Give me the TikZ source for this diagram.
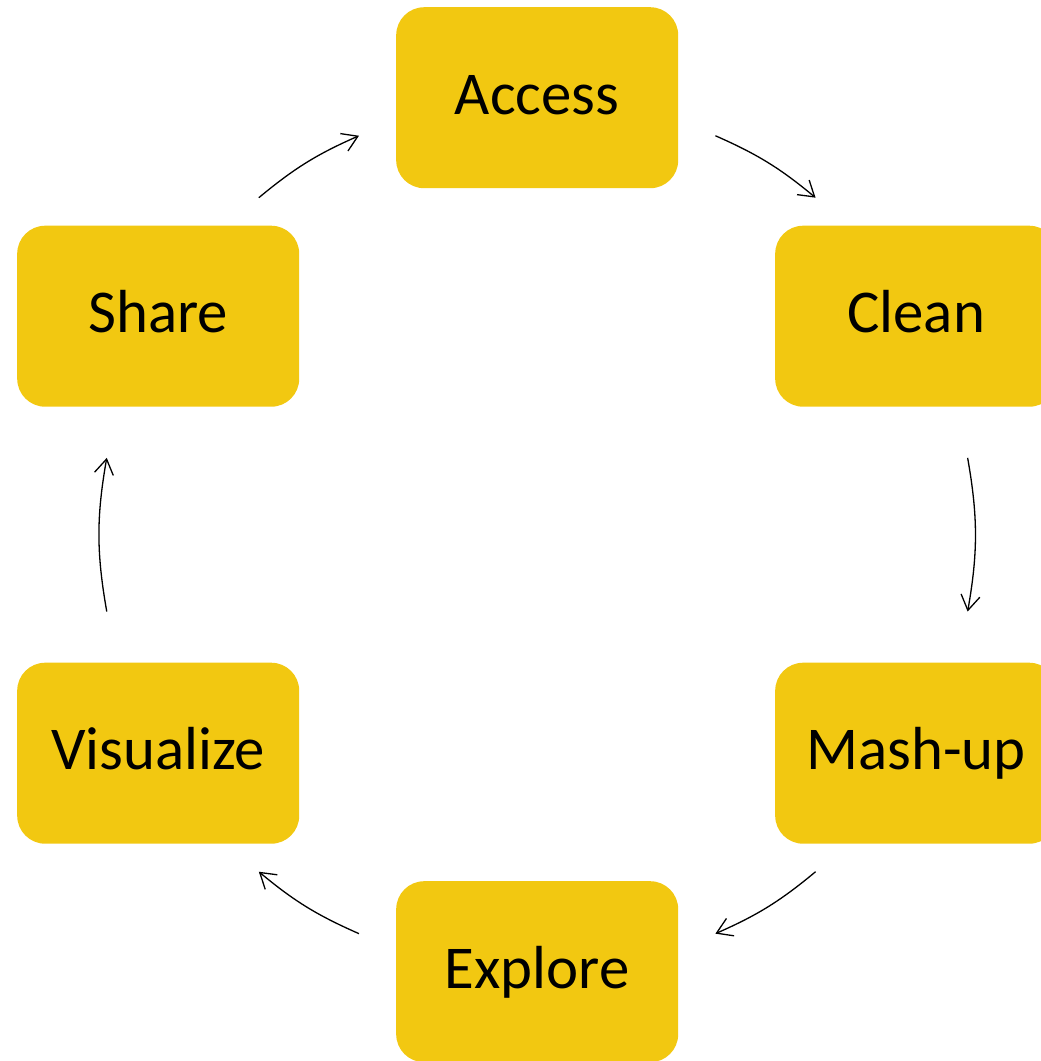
\documentclass[tikz,border=0pt]{standalone}
\usepackage{fontspec}
\setmainfont{Carlito}
\usepackage{tikz}
\usetikzlibrary{matrix,arrows.meta}
\definecolor{stagegold}{HTML}{F2C811}

\begin{document}
\begin{tikzpicture}[x=1pt,y=1pt,
    stage/.style={fill=stagegold,rounded corners=28pt,minimum width=282pt,minimum height=181pt,inner sep=0pt,anchor=center,text height=38.5pt,text depth=5pt,font=\fontsize{60.8}{72}\selectfont},
    ring/.style={bend left=30,looseness=.91},
    flow/.style={-{Straight Barb[length=15pt,width=19pt]},line width=1.3pt}]
  \useasboundingbox (0,0) rectangle (1041,-1061);
  \matrix (m) [matrix of nodes,anchor=north west,inner sep=0pt,row sep=37.5pt,column sep=97pt,nodes={stage}] at (17,-7) {
              & Access  &         \\
    Share     &         & Clean   \\[218.5pt]
    Visualize &         & Mash-up \\
              & Explore &         \\
  };
  \path (m-1-2.center) to[ring] coordinate[pos=.40] (a1) coordinate[pos=.66] (b1) (m-2-3.center)
    (m-2-3.center) to[ring] coordinate[pos=.33] (a2) coordinate[pos=.67] (b2) (m-3-3.center)
    (m-3-3.center) to[ring] coordinate[pos=.34] (a3) coordinate[pos=.60] (b3) (m-4-2.center)
    (m-4-2.center) to[ring] coordinate[pos=.40] (a4) coordinate[pos=.66] (b4) (m-3-1.center)
    (m-3-1.center) to[ring] coordinate[pos=.33] (a5) coordinate[pos=.67] (b5) (m-2-1.center)
    (m-2-1.center) to[ring] coordinate[pos=.34] (a6) coordinate[pos=.60] (b6) (m-1-2.center);
  \path[flow]
    (a1) edge[bend left=8] (b1)
    (a2) edge[bend left=10] (b2)
    (a3) edge[bend left=8] (b3)
    (a4) edge[bend left=8] (b4)
    (a5) edge[bend left=10] (b5)
    (a6) edge[bend left=8] (b6);
\end{tikzpicture}
\end{document}
